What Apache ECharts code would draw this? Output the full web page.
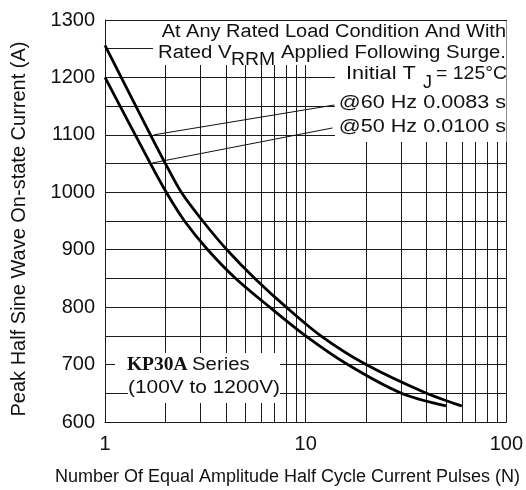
<!DOCTYPE html>
<html>
<head>
<meta charset="utf-8">
<script src="https://cdn.jsdelivr.net/npm/echarts@6/dist/echarts.min.js"></script>
<style>html,body{margin:0;padding:0;background:#fff}#c{width:526px;height:490px}</style>
</head>
<body>
<div id="c"></div>
<script>
// ---- data ----
const upperN = [1, 1.685, 2.0, 2.40, 3.07, 4.05, 5.58, 8.0, 11.9, 20, 40, 60];       // 60 Hz curve
const upperI = [1256, 1100, 1050, 1000, 950, 900, 850, 800, 750, 700, 650, 628];
const lowerN = [1, 1.685, 2.02, 2.49, 3.25, 4.48, 6.62, 10, 16.2, 30, 50];           // 50 Hz curve
const lowerI = [1200, 1050, 1000, 950, 900, 850, 800, 750, 700, 650, 628];
const minorX = [2, 3, 4, 5, 6, 7, 8, 9, 20, 30, 40, 50, 60, 70, 80, 90];
const xTicks = [1, 10, 100];
const yMin = 600, yMax = 1300, yStep = 50;
const pointer60 = [[13.9, 1152], [1.75, 1100]];
const pointer50 = [[13.6, 1112], [1.72, 1051]];

const FONT = '"Liberation Sans", Arial, sans-serif';
const INK = '#111';
const GRID = '#1a1a1a';

const chart = echarts.init(document.getElementById('c'));

function zip(a, b) { return a.map((v, i) => [v, b[i]]); }
function txt(text, x, y, align, opts) {
  opts = opts || {};
  return {
    type: 'text', x: x, y: y, z: 110, scaleX: opts.scaleX || 1, rotation: opts.rotation || 0,
    style: {
      text: text, fill: INK,
      font: (opts.weight || 'normal') + ' ' + (opts.size || 18) + 'px ' + (opts.family || FONT),
      align: align, verticalAlign: 'middle', textAlign: align, textVerticalAlign: 'middle'
    }
  };
}
function box(x, y, w, h) {
  return { type: 'rect', z: 100, shape: { x: x, y: y, width: w, height: h }, style: { fill: '#fff' } };
}

const SX = 1.13;

chart.setOption({
  animation: false,
  backgroundColor: '#fff',
  grid: { left: 105, right: 19, top: 20, bottom: 68 },
  xAxis: {
    type: 'log', logBase: 10, min: xTicks[0], max: xTicks[xTicks.length - 1],
    axisLine: { show: true, lineStyle: { color: GRID, width: 1 } },
    axisTick: { show: false },
    axisLabel: { fontFamily: FONT, fontSize: 20, color: INK, margin: 12 },
    splitLine: { show: true, lineStyle: { color: GRID, width: 1 } },
    minorTick: { show: false }, minorSplitLine: { show: false }
  },
  yAxis: {
    type: 'value', min: yMin, max: yMax, interval: yStep,
    axisLine: { show: true, lineStyle: { color: GRID, width: 1 } },
    axisTick: { show: false },
    axisLabel: {
      fontFamily: FONT, fontSize: 20, color: INK, margin: 10,
      formatter: v => (v % 100 === 0 ? String(v) : '')
    },
    splitLine: { show: true, lineStyle: { color: GRID, width: 1 } }
  },
  series: [
    {
      name: '60 Hz', type: 'line', data: zip(upperN, upperI), smooth: 0.3, showSymbol: false,
      lineStyle: { color: '#000', width: 2.8 }, z: 5,
      markLine: {
        silent: true, symbol: 'none', animation: false,
        label: { show: false },
        lineStyle: { color: GRID, width: 1, type: 'solid' },
        data: minorX.map(v => ({ xAxis: v }))
      }
    },
    {
      name: '50 Hz', type: 'line', data: zip(lowerN, lowerI), smooth: 0.3, showSymbol: false,
      lineStyle: { color: '#000', width: 2.8 }, z: 5,
      markLine: {
        silent: true, symbol: 'none', animation: false,
        label: { show: false },
        lineStyle: { color: '#111', width: 1, type: 'solid' },
        data: [
          [{ coord: pointer60[0] }, { coord: pointer60[1] }],
          [{ coord: pointer50[0] }, { coord: pointer50[1] }]
        ]
      }
    }
  ],
  graphic: [
    box(153, 21, 353.5, 44),
    box(335, 65, 171.5, 77),
    box(115, 353, 165, 25),
    box(128, 378, 152, 25),
    txt('At Any Rated Load Condition And With', 506, 32.5, 'right', { scaleX: 1.11 }),
    txt('Rated V', 158, 53, 'left', { scaleX: SX }),
    txt('RRM', 231, 60, 'left', { scaleX: 1.08 }),
    txt('Applied Following Surge.', 506, 53, 'right', { scaleX: SX }),
    txt('Initial T', 346, 74.5, 'left', { scaleX: 1.2 }),
    txt('J', 423, 83, 'left', { scaleX: 1 }),
    txt('= 125°C', 507, 74.5, 'right', { scaleX: 1.08 }),
    txt('@60 Hz 0.0083 s', 506, 103.5, 'right', { scaleX: 1.2 }),
    txt('@50 Hz 0.0100 s', 506, 127.5, 'right', { scaleX: 1.2 }),
    txt('KP30A', 127, 365, 'left', { scaleX: 1.08, weight: 'bold', size: 18, family: '"Liberation Serif", "Times New Roman", serif' }),
    txt('Series', 192, 365, 'left', { scaleX: SX }),
    txt('(100V to 1200V)', 128, 388.5, 'left', { scaleX: 1.16 }),
    txt('Peak Half Sine Wave On-state Current (A)', 19, 229, 'center', { size: 20, rotation: Math.PI / 2 }),
    txt('Number Of Equal Amplitude Half Cycle Current Pulses (N)', 287.5, 477.5, 'center', { size: 18 })
  ]
});
</script>
</body>
</html>
